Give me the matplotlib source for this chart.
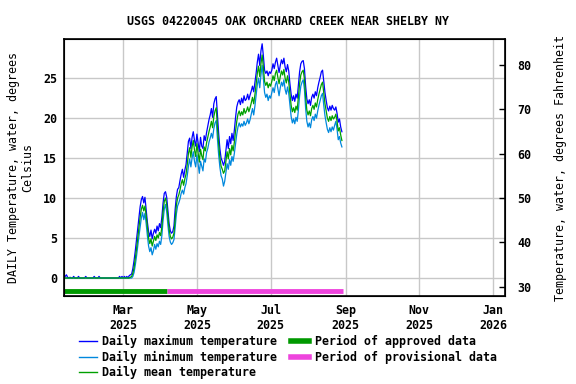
import pandas as pd
import matplotlib
matplotlib.use('Agg')
import matplotlib.pyplot as plt
import matplotlib.dates as mdates
from matplotlib.lines import Line2D

plt.rcParams['font.family'] = 'DejaVu Sans Mono'
plt.rcParams['font.weight'] = 'bold'
plt.rcParams['font.size'] = 8.4

# daily values, 2025-01-11 .. 2025-08-29 (deg C)
start_date = '2025-01-11'
end_date = '2025-08-29'

t_max = [
    0.3, 0.2, 0.4, 0.1, 0.0, 0.1, 0.0, 0.0, 0.2, 0.0,
    0.0, 0.0, 0.2, 0.0, 0.0, 0.0, 0.0, 0.0, 0.2, 0.0,
    0.0, 0.0, 0.0, 0.0, 0.0, 0.2, 0.0, 0.0, 0.0, 0.2,
    0.0, 0.0, 0.0, 0.0, 0.0, 0.0, 0.0, 0.0, 0.0, 0.0,
    0.0, 0.0, 0.0, 0.0, 0.0, 0.0, 0.2, 0.0, 0.2, 0.0,
    0.2, 0.0, 0.2, 0.0, 0.3, 0.4,
    0.5, 1.2, 2.2, 3.4, 4.8, 6.3, 7.6, 8.9, 9.8, 10.2,
    9.4, 10.1, 8.6, 7.0, 5.8, 5.2, 6.0, 4.9, 5.6, 6.1,
    5.6, 6.5, 5.9, 6.8, 6.3, 7.6, 9.4, 10.6, 10.8, 10.1,
    8.4, 6.8, 5.9, 5.6, 5.8, 6.5, 8.6, 10.2, 11.1, 11.3,
    12.2, 13.0, 13.6, 12.6, 13.5, 14.2, 15.6, 17.1, 17.5, 16.2,
    17.6, 18.3, 17.2, 16.5, 18.0, 16.9, 15.8, 17.6, 16.5, 16.2,
    17.8, 17.2, 18.2, 19.0, 19.8, 20.4, 21.2, 20.1, 21.8, 22.4,
    22.7, 20.4, 18.1, 16.2, 15.0, 14.6, 14.1, 14.6, 16.0, 17.3,
    16.2, 17.7, 16.8, 18.1, 17.2, 18.5, 20.1, 21.4, 22.0, 22.3,
    21.7, 22.5, 21.9, 22.8, 22.2, 22.4, 23.0, 22.3, 22.9, 23.4,
    24.0, 23.3, 24.4, 25.6, 27.0, 28.0, 26.6, 28.4, 29.3, 27.8,
    26.0, 25.6, 25.9, 25.3, 25.8, 25.6, 26.0, 26.8, 26.2, 27.0,
    27.5, 26.6, 25.7, 26.6, 27.3, 26.8, 27.5, 26.4, 25.8, 26.7,
    25.9, 24.3, 23.0, 22.2, 22.8, 22.1, 23.0, 22.5, 24.2, 25.8,
    26.8, 27.1, 27.2, 26.2, 24.0, 22.4, 21.8, 22.3, 21.6, 22.6,
    23.0, 22.5, 23.3, 22.8, 23.8, 24.5, 25.1, 25.8, 26.0, 24.6,
    23.2, 22.2, 21.3, 20.9, 21.5, 21.0, 21.6, 21.2, 21.0, 21.4,
    20.6, 19.5, 19.9, 18.9, 18.3,
]

t_min = [
    0.0, 0.0, 0.0, 0.0, 0.0, 0.0, 0.0, 0.0, 0.0, 0.0,
    0.0, 0.0, 0.0, 0.0, 0.0, 0.0, 0.0, 0.0, 0.0, 0.0,
    0.0, 0.0, 0.0, 0.0, 0.0, 0.0, 0.0, 0.0, 0.0, 0.0,
    0.0, 0.0, 0.0, 0.0, 0.0, 0.0, 0.0, 0.0, 0.0, 0.0,
    0.0, 0.0, 0.0, 0.0, 0.0, 0.0, 0.0, 0.0, 0.0, 0.0,
    0.0, 0.0, 0.0, 0.0, 0.0, 0.0,
    0.0, 0.2, 0.7, 1.6, 2.7, 4.0, 5.2, 6.4, 7.5, 8.2,
    7.3, 8.1, 6.8, 5.3, 4.0, 3.3, 3.8, 2.9, 3.4, 4.2,
    3.6, 4.3, 3.9, 4.6, 4.2, 5.3, 7.2, 8.6, 9.2, 8.3,
    6.6, 5.2, 4.5, 4.2, 4.4, 4.8, 6.3, 8.0, 9.0, 9.4,
    9.9, 10.6, 11.0, 10.5, 11.3, 11.8, 12.8, 14.0, 14.9, 13.9,
    15.0, 15.8, 14.6, 13.9, 15.4, 14.2, 13.1, 14.6, 14.0, 13.4,
    14.9, 14.5, 15.7, 16.2, 17.0, 17.5, 18.1, 17.5, 18.7, 19.4,
    19.7, 17.4, 15.4, 13.9, 12.8, 12.4, 11.5, 12.1, 13.2, 14.3,
    13.6, 14.8, 14.1, 15.2, 14.6, 15.6, 16.8, 18.0, 18.9, 19.4,
    18.9, 19.3, 19.0, 19.6, 19.1, 19.4, 19.9, 19.3, 19.8, 20.5,
    21.2, 20.4, 21.5, 22.8, 24.2, 25.0, 23.8, 25.4, 26.6, 25.0,
    23.2, 22.6, 23.0, 22.2, 22.8, 22.5, 23.2, 23.8, 23.2, 24.2,
    24.6, 23.7, 22.8, 23.8, 24.5, 24.0, 24.8, 23.6, 23.0, 23.9,
    23.1, 21.6, 20.2, 19.4, 19.9, 19.3, 20.1, 19.6, 21.0, 22.8,
    24.0, 24.5, 24.8, 23.6, 21.2, 19.6, 18.9, 19.4, 18.8, 19.8,
    20.2, 19.7, 20.5, 20.0, 20.9, 21.6, 22.2, 22.8, 23.1, 21.6,
    20.3, 19.4, 18.6, 18.2, 18.8, 18.3, 18.9, 18.5, 19.1, 19.6,
    18.6, 17.3, 17.7, 16.9, 16.4,
]

t_mean = [
    0.0, 0.0, 0.0, 0.0, 0.0, 0.0, 0.0, 0.0, 0.0, 0.0,
    0.0, 0.0, 0.0, 0.0, 0.0, 0.0, 0.0, 0.0, 0.0, 0.0,
    0.0, 0.0, 0.0, 0.0, 0.0, 0.0, 0.0, 0.0, 0.0, 0.0,
    0.0, 0.0, 0.0, 0.0, 0.0, 0.0, 0.0, 0.0, 0.0, 0.0,
    0.0, 0.0, 0.0, 0.0, 0.0, 0.0, 0.0, 0.0, 0.0, 0.0,
    0.0, 0.0, 0.0, 0.0, 0.0, 0.1,
    0.2, 0.6, 1.3, 2.4, 3.6, 5.0, 6.3, 7.6, 8.6, 9.1,
    8.4, 9.0, 7.8, 6.4, 5.0, 4.3, 4.9, 4.0, 4.6, 5.2,
    4.7, 5.4, 5.0, 5.7, 5.3, 6.4, 8.3, 9.6, 10.0, 9.2,
    7.6, 6.1, 5.2, 4.9, 5.1, 5.6, 7.4, 9.1, 10.0, 10.4,
    11.0, 11.8, 12.3, 11.6, 12.4, 13.0, 14.2, 15.6, 16.3, 15.1,
    16.4, 17.2, 16.0, 15.2, 16.8, 15.6, 14.5, 16.1, 15.3, 14.8,
    16.4, 15.9, 16.9, 17.6, 18.3, 18.9, 19.6, 18.8, 20.2, 20.9,
    21.3, 18.9, 16.8, 15.1, 14.0, 13.6, 13.1, 13.4, 14.6, 15.8,
    14.9, 16.2, 15.4, 16.6, 15.9, 17.0, 18.4, 19.6, 20.5, 20.9,
    20.3, 20.8, 20.4, 21.2, 20.6, 20.9, 21.4, 20.8, 21.3, 21.9,
    22.6, 21.8, 22.9, 24.2, 25.6, 26.5, 25.2, 26.8, 27.9, 26.4,
    24.6, 24.1, 24.5, 23.8, 24.3, 24.0, 24.6, 25.3, 24.7, 25.6,
    26.0, 25.1, 24.3, 25.2, 25.9, 25.4, 26.1, 25.0, 24.4, 25.3,
    24.5, 23.0, 21.6, 20.8, 21.3, 20.7, 21.5, 21.0, 22.6, 24.3,
    25.4, 25.8, 26.0, 24.9, 22.6, 21.0, 20.4, 20.9, 20.3, 21.2,
    21.6, 21.1, 21.9, 21.4, 22.3, 23.0, 23.6, 24.2, 24.5, 23.1,
    21.8, 20.9, 20.0, 19.6, 20.2, 19.7, 20.3, 19.9, 20.1, 20.5,
    19.6, 18.4, 18.8, 17.9, 17.2,
]

# approval periods
approved = ('2025-01-11', '2025-04-06')
provisional = ('2025-04-06', '2025-08-30')

dates = pd.date_range(start_date, end_date, freq='D')

c_max = '#0000ff'
c_min = '#0088dd'
c_mean = '#00a000'
c_appr = '#009900'
c_prov = '#ee44dd'

fig = plt.figure(figsize=(5.76, 3.84), dpi=100)
ax = fig.add_axes([64 / 576, 1 - 296 / 384, 441 / 576, 257 / 384])

ax.plot(dates, t_max, color=c_max, lw=0.9)
ax.plot(dates, t_min, color=c_min, lw=0.9)
ax.plot(dates, t_mean, color=c_mean, lw=0.9)

bar_y = -1.6
ax.plot(pd.to_datetime(list(approved)), [bar_y, bar_y], color=c_appr, lw=3.5, solid_capstyle='butt')
ax.plot(pd.to_datetime(list(provisional)), [bar_y, bar_y], color=c_prov, lw=3.5, solid_capstyle='butt')

ylo, yhi = -2.25, 29.9
ax.set_ylim(ylo, yhi)
ax.set_xlim(pd.Timestamp('2025-01-11'), pd.Timestamp('2026-01-11'))
ax.set_yticks([0, 5, 10, 15, 20, 25])
ax.xaxis.set_major_locator(mdates.MonthLocator(bymonth=[1, 3, 5, 7, 9, 11]))
ax.xaxis.set_major_formatter(mdates.DateFormatter('%b\n%Y'))
ax.grid(True, color='#c8c8c8', lw=1)
ax.set_axisbelow(True)
ax.tick_params(axis='x', length=0, pad=6)
ax.tick_params(axis='y', length=0, pad=5)
for s in ax.spines.values():
    s.set_linewidth(1.2)

ax.set_ylabel('DAILY Temperature, water, degrees\nCelsius', labelpad=6)

# Fahrenheit axis
ax2 = ax.twinx()
ax2.set_ylim(ylo * 1.8 + 32, yhi * 1.8 + 32)
ax2.set_yticks([30, 40, 50, 60, 70, 80])
ax2.tick_params(axis='y', direction='in', length=4, width=1, pad=9)
ax2.set_ylabel('Temperature, water, degrees Fahrenheit', labelpad=16)

fig.suptitle('USGS 04220045 OAK ORCHARD CREEK NEAR SHELBY NY', y=0.962, fontsize=8.4, fontweight='bold')

handles = [
    Line2D([], [], color=c_max, lw=1),
    Line2D([], [], color=c_min, lw=1),
    Line2D([], [], color=c_mean, lw=1),
    Line2D([], [], color=c_appr, lw=4),
    Line2D([], [], color=c_prov, lw=4),
]
labels = ['Daily maximum temperature', 'Daily minimum temperature',
          'Daily mean temperature', 'Period of approved data',
          'Period of provisional data']
fig.legend(handles, labels, ncol=2, loc='upper left', bbox_to_anchor=(79 / 576, 1 - 335 / 384),
           frameon=False, handlelength=1.55, handletextpad=0.45, labelspacing=0.22,
           columnspacing=1.2, borderaxespad=0, borderpad=0)

fig.savefig('out.png', dpi=100)
